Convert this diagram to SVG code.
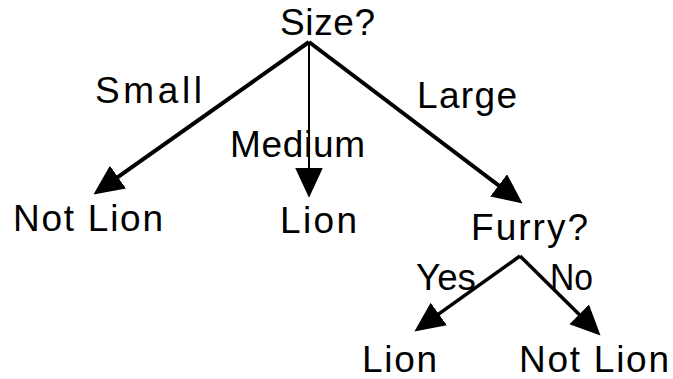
<svg xmlns="http://www.w3.org/2000/svg" width="673" height="379" viewBox="0 0 673 379">
  <style>
    .lbl { font-family: "Liberation Sans", Arial, sans-serif; font-size: 37px; fill: #000; }
    .edge { stroke: #000; fill: none; stroke-linecap: butt; }
  </style>
  <defs>
    <marker id="head" markerUnits="userSpaceOnUse" markerWidth="30" markerHeight="28" viewBox="0 0 28 26" refX="18" refY="13" orient="auto">
      <path d="M0,0 L28,13 L0,26 z" fill="#000"/>
    </marker>
  </defs>
  <rect width="673" height="379" fill="#fff"/>

  <g id="connectors">
    <line class="edge" x1="309" y1="42" x2="102.2" y2="188.2" stroke-width="4" marker-end="url(#head)"/>
    <line class="edge" x1="309" y1="42" x2="309" y2="187" stroke-width="2" marker-end="url(#head)"/>
    <line class="edge" x1="309" y1="42" x2="514" y2="197" stroke-width="4" marker-end="url(#head)"/>
    <line class="edge" x1="520" y1="256" x2="423.1" y2="325.2" stroke-width="3.5" marker-end="url(#head)"/>
    <line class="edge" x1="520" y1="256" x2="592.9" y2="328" stroke-width="3.5" marker-end="url(#head)"/>
  </g>

  <g id="edge-labels">
    <text class="lbl" x="95" y="103" textLength="107" lengthAdjust="spacing">Small</text>
    <text class="lbl" x="230" y="157" textLength="135" lengthAdjust="spacing">Medium</text>
    <text class="lbl" x="417" y="108" textLength="100" lengthAdjust="spacing">Large</text>
    <text class="lbl" x="416" y="290" textLength="60" lengthAdjust="spacingAndGlyphs">Yes</text>
    <text class="lbl" x="550" y="290" textLength="43" lengthAdjust="spacingAndGlyphs">No</text>
  </g>

  <g id="node-size"><text class="lbl" x="280" y="35" textLength="95" lengthAdjust="spacing">Size?</text></g>
  <g id="node-notlion-1"><text class="lbl" x="13" y="231" textLength="150" lengthAdjust="spacing">Not Lion</text></g>
  <g id="node-lion-1"><text class="lbl" x="280" y="233" textLength="77" lengthAdjust="spacing">Lion</text></g>
  <g id="node-furry"><text class="lbl" x="471" y="240" textLength="117" lengthAdjust="spacing">Furry?</text></g>
  <g id="node-lion-2"><text class="lbl" x="362" y="372" textLength="75" lengthAdjust="spacing">Lion</text></g>
  <g id="node-notlion-2"><text class="lbl" x="519" y="372" textLength="150" lengthAdjust="spacing">Not Lion</text></g>
</svg>
